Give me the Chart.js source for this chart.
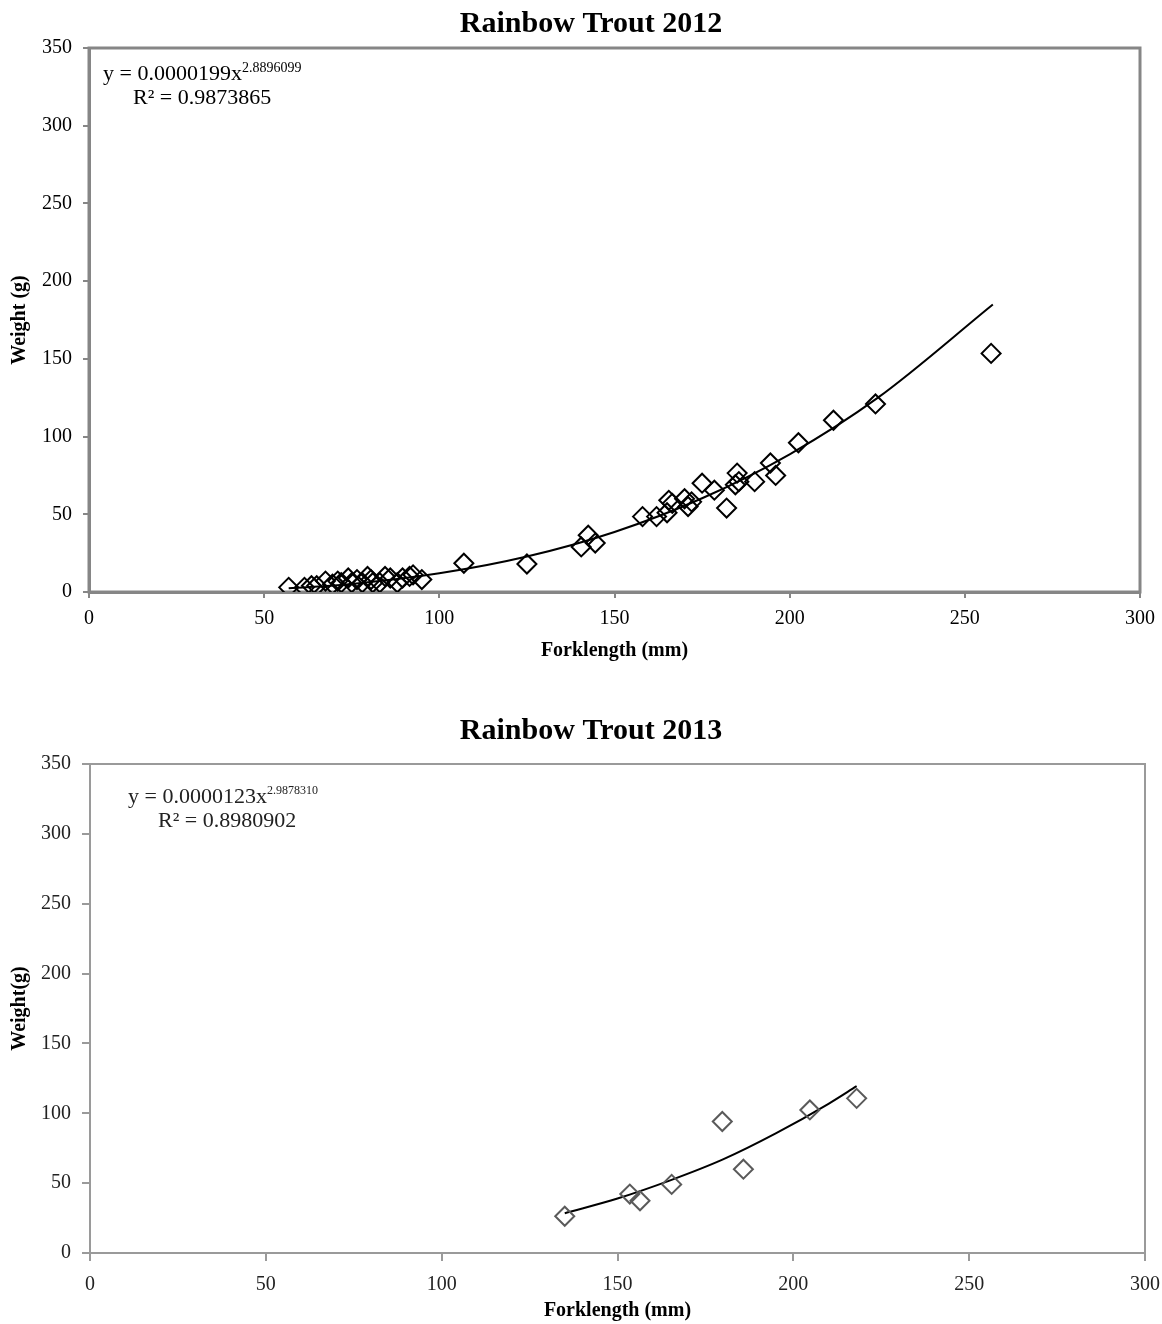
<!DOCTYPE html>
<html>
<head>
<meta charset="utf-8">
<script src="https://cdn.jsdelivr.net/npm/chart.js@4.4.0/dist/chart.umd.min.js"></script>
<style>
  body { margin: 0; background: #fff; }
  canvas { position: absolute; left: 0; }
  #top { top: 0; }
  #bottom { top: 700px; }
</style>
</head>
<body>
<canvas id="top" width="1162" height="670"></canvas>
<canvas id="bottom" width="1162" height="624"></canvas>
<script>
const xTicks = [0, 50, 100, 150, 200, 250, 300]
const yTicks = [0, 50, 100, 150, 200, 250, 300, 350]

// 2012 catch, forklength (mm) and weight (g)
const fork2012 = [57, 61.5, 63.5, 65, 67.5, 69.5, 71, 72, 74, 75, 76.5, 78, 79.5, 80.5, 81, 83, 84.5, 86, 88, 89.5,
  91.5, 92.5, 95, 107, 125, 140.5, 142.5, 144.5, 158, 162, 165, 165.5, 166.5, 170, 171, 172, 175, 178.5, 182,
  184.5, 185, 185.5, 190, 194.5, 196, 202.5, 212.5, 224.5, 257.5]
const weight2012 = [3, 3, 4, 4, 7, 5, 7, 6, 9, 6, 8, 6, 10, 8, 6, 6, 10, 9, 6, 9,
  10, 11, 8, 18.5, 18, 29, 36.5, 31.5, 48.5, 48.5, 51, 59, 57, 60, 55, 58, 70, 65.5, 54,
  69, 76.5, 71, 71, 83, 75, 96, 110.5, 121, 153.5]
// power trendline as drawn
const fitX2012 = [57, 75, 100, 125, 150, 175, 200, 225, 258]
const fitY2012 = [2.4, 5.2, 12, 22.8, 38.6, 60.3, 88.6, 124.7, 185]
const eq2012 = 'y = 0.0000199x'
const exp2012 = '2.8896099'
const r2012 = 'R² = 0.9873865'

// 2013 catch
const fork2013 = [135, 153.5, 156.4, 165.4, 179.8, 185.8, 204.7, 218]
const weight2013 = [26.3, 42.2, 37.4, 49.1, 94.1, 60, 102.4, 110.7]
const fitX2013 = [135, 150, 165, 180, 195, 210, 218]
const fitY2013 = [28.5, 39, 52, 67, 85.6, 106.8, 119.4]
const eq2013 = 'y = 0.0000123x'
const exp2013 = '2.9878310'
const r2013 = 'R² = 0.8980902'

const serif = '"Liberation Serif", "Times New Roman", serif'

function pts(xs, ys) {
  return xs.map((x, i) => ({x: x, y: ys[i]}))
}

const framePlugin = {
  id: 'frame',
  beforeDatasetsDraw(chart, args, o) {
    const {ctx, chartArea: a} = chart
    ctx.save()
    ctx.strokeStyle = o.color
    ctx.lineWidth = o.width
    ctx.strokeRect(a.left, a.top, a.right - a.left, a.bottom - a.top)
    ctx.restore()
  }
}

const equationPlugin = {
  id: 'equation',
  afterDraw(chart, args, o) {
    const {ctx, chartArea: a} = chart
    ctx.save()
    ctx.fillStyle = o.color
    ctx.textBaseline = 'middle'
    ctx.font = o.size + 'px ' + serif
    const x = a.left + o.dx
    const y = a.top + o.dy
    ctx.fillText(o.main, x, y)
    const w = ctx.measureText(o.main).width
    ctx.font = o.supSize + 'px ' + serif
    ctx.fillText(o.sup, x + w, y - 6)
    ctx.font = o.size + 'px ' + serif
    ctx.fillText(o.r2, a.left + o.dx2, y + o.gap)
    ctx.restore()
  }
}

function makeChart(id, cfg) {
  return new Chart(document.getElementById(id), {
    type: 'scatter',
    data: {
      datasets: [
        {
          data: pts(cfg.fx, cfg.fy),
          pointStyle: 'rectRot',
          pointRadius: 9.5,
          pointHoverRadius: 9.5,
          borderColor: cfg.markColor,
          backgroundColor: 'rgba(0,0,0,0)',
          borderWidth: 2,
          pointBorderWidth: 2,
          order: 1
        },
        {
          data: pts(cfg.tx, cfg.ty),
          showLine: true,
          pointRadius: 0,
          borderColor: '#000',
          borderWidth: 2,
          cubicInterpolationMode: 'monotone',
          order: 2
        }
      ]
    },
    options: {
      responsive: false,
      animation: false,
      layout: { padding: { left: 20, right: 0, top: 0, bottom: 0 } },
      plugins: {
        legend: { display: false },
        tooltip: { enabled: false },
        title: {
          display: true,
          text: cfg.title,
          color: '#000',
          font: { family: serif, size: 30, weight: 'bold' },
          padding: cfg.titlePad
        },
        frame: { color: cfg.frameColor, width: cfg.frameWidth },
        equation: cfg.eq
      },
      scales: {
        x: {
          type: 'linear',
          min: 0,
          max: 300,
          afterBuildTicks: s => { s.ticks = xTicks.map(v => ({value: v})) },
          afterFit: s => { s.height = cfg.xHeight; s.paddingRight = cfg.padRight },
          grid: { drawOnChartArea: false, drawTicks: true, tickLength: cfg.tickLen, color: cfg.frameColor, lineWidth: 2 },
          border: { display: true, color: cfg.frameColor, width: cfg.frameWidth },
          ticks: { color: cfg.textColor, padding: cfg.xTickPad, maxRotation: 0, font: { family: serif, size: 20 } },
          title: {
            display: true,
            text: 'Forklength (mm)',
            color: '#000',
            font: { family: serif, size: 20, weight: 'bold' },
            padding: { top: 0, bottom: cfg.xTitlePad }
          }
        },
        y: {
          type: 'linear',
          min: 0,
          max: 350,
          afterBuildTicks: s => { s.ticks = yTicks.map(v => ({value: v})) },
          afterFit: s => { s.width = cfg.yWidth },
          grid: { drawOnChartArea: false, drawTicks: true, tickLength: cfg.tickLen, color: cfg.frameColor, lineWidth: 2 },
          border: { display: true, color: cfg.frameColor, width: cfg.frameWidth },
          ticks: { color: cfg.textColor, padding: 11, font: { family: serif, size: 20 } },
          title: {
            display: true,
            text: cfg.yTitle,
            color: '#000',
            font: { family: serif, size: 20, weight: 'bold' },
            padding: { top: -12, bottom: 0 }
          }
        }
      }
    },
    plugins: [framePlugin, equationPlugin]
  })
}

makeChart('top', {
  title: 'Rainbow Trout 2012',
  fx: fork2012, fy: weight2012, tx: fitX2012, ty: fitY2012,
  markColor: '#000',
  frameColor: '#868686',
  frameWidth: 3,
  textColor: '#000',
  titlePad: { top: 6, bottom: 6 },
  xHeight: 78,
  padRight: 22,
  yWidth: 69,
  tickLen: 6,
  xTickPad: 9,
  xTitlePad: 7,
  yTitle: 'Weight (g)',
  eq: { color: '#000', size: 22, supSize: 14, main: eq2012, sup: exp2012, r2: r2012, dx: 14, dy: 26, dx2: 44, gap: 24 }
})

makeChart('bottom', {
  title: 'Rainbow Trout 2013',
  fx: fork2013, fy: weight2013, tx: fitX2013, ty: fitY2013,
  markColor: '#5a5a5a',
  frameColor: '#9a9a9a',
  frameWidth: 2,
  textColor: '#222',
  titlePad: { top: 13, bottom: 15 },
  xHeight: 71,
  padRight: 17,
  yWidth: 70,
  tickLen: 8,
  xTickPad: 12,
  xTitlePad: 1,
  yTitle: 'Weight(g)',
  eq: { color: '#222', size: 22, supSize: 12, main: eq2013, sup: exp2013, r2: r2013, dx: 38, dy: 33, dx2: 68, gap: 24 }
})
</script>
</body>
</html>
